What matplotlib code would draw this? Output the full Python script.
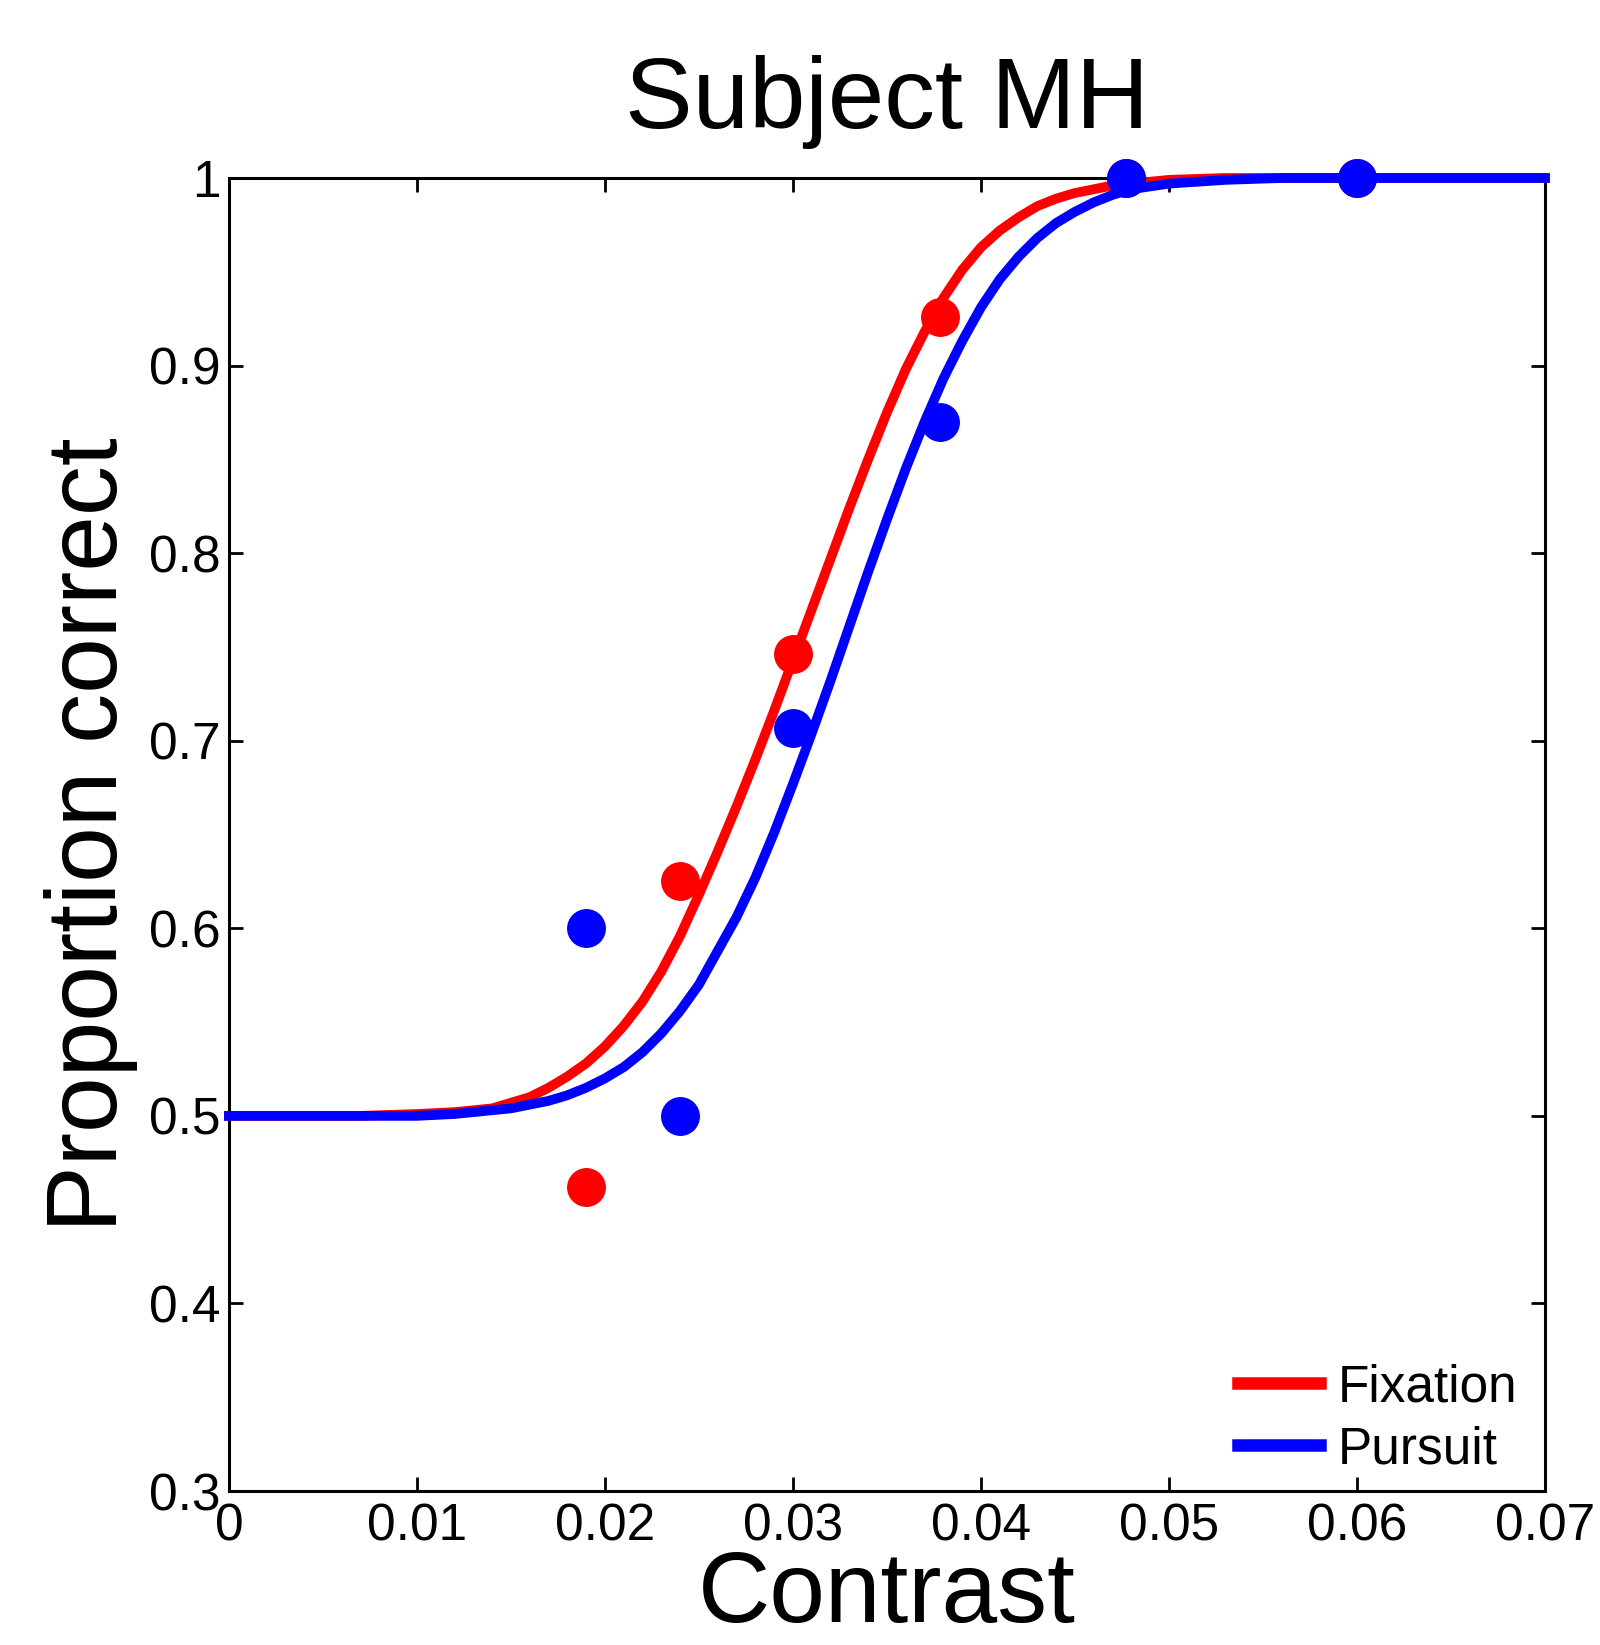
import numpy as np
import matplotlib
matplotlib.use("Agg")
import matplotlib.pyplot as plt

plt.rcParams['font.family'] = ['Liberation Sans', 'DejaVu Sans']

# measured proportion correct at each contrast
contrast = [0.019, 0.024, 0.030, 0.0378, 0.0477, 0.060]
fix_pc = [0.462, 0.625, 0.746, 0.926, 1.0, 1.0]
pur_pc = [0.600, 0.500, 0.707, 0.870, 1.0, 1.0]

# fitted curves
fix_fit_x = [0.0, 0.007, 0.010, 0.012, 0.014, 0.015, 0.016, 0.017, 0.018, 0.019,
             0.020, 0.021, 0.022, 0.023, 0.024, 0.025, 0.026, 0.027, 0.028,
             0.029, 0.030, 0.031, 0.032, 0.033, 0.034, 0.035, 0.036, 0.037,
             0.038, 0.039, 0.040, 0.041, 0.042, 0.043, 0.044, 0.045, 0.046,
             0.047, 0.048, 0.050, 0.053, 0.070]
fix_fit_y = [0.500, 0.500, 0.501, 0.502, 0.504, 0.507, 0.510, 0.515, 0.521, 0.528,
             0.537, 0.548, 0.561, 0.577, 0.596, 0.618, 0.641, 0.665, 0.690,
             0.716, 0.743, 0.770, 0.797, 0.824, 0.850, 0.875, 0.898, 0.918,
             0.936, 0.951, 0.963, 0.972, 0.979, 0.985, 0.989, 0.992, 0.994,
             0.996, 0.997, 0.999, 1.0, 1.0]

pur_fit_x = [0.0, 0.010, 0.012, 0.014, 0.015, 0.016, 0.017, 0.018, 0.019,
             0.020, 0.021, 0.022, 0.023, 0.024, 0.025, 0.026, 0.027, 0.028,
             0.029, 0.030, 0.031, 0.032, 0.033, 0.034, 0.035, 0.036, 0.037,
             0.038, 0.039, 0.040, 0.041, 0.042, 0.043, 0.044, 0.045, 0.046,
             0.047, 0.048, 0.050, 0.053, 0.056, 0.070]
pur_fit_y = [0.500, 0.500, 0.501, 0.503, 0.504, 0.506, 0.508, 0.511, 0.515,
             0.520, 0.526, 0.534, 0.544, 0.556, 0.570, 0.588, 0.606, 0.627,
             0.651, 0.677, 0.704, 0.732, 0.761, 0.790, 0.818, 0.845, 0.870,
             0.893, 0.913, 0.931, 0.946, 0.958, 0.968, 0.976, 0.982, 0.987,
             0.991, 0.994, 0.997, 0.999, 1.0, 1.0]

fig = plt.figure(figsize=(16, 16.45), dpi=100)
ax = fig.add_axes([0.1431, 0.0936, 0.8225, 0.7982])

lf, = ax.plot(fix_fit_x, fix_fit_y, color='red', lw=7, clip_on=False, zorder=3,
              solid_joinstyle='round')
ax.plot(contrast, fix_pc, 'o', color='red', ms=27, clip_on=False, zorder=4)
lp, = ax.plot(pur_fit_x, pur_fit_y, color='blue', lw=7, clip_on=False, zorder=5,
              solid_joinstyle='round')
ax.plot(contrast, pur_pc, 'o', color='blue', ms=27, clip_on=False, zorder=6)

ax.set_xlim(0, 0.07)
ax.set_ylim(0.3, 1.0)
ax.set_xticks(np.arange(0, 0.0701, 0.01))
ax.set_xticklabels(['0', '0.01', '0.02', '0.03', '0.04', '0.05', '0.06', '0.07'])
ax.set_yticks(np.arange(0.3, 1.001, 0.1))
ax.set_yticklabels(['0.3', '0.4', '0.5', '0.6', '0.7', '0.8', '0.9', '1'])

ax.tick_params(direction='in', length=10, width=2, labelsize=37,
               top=True, right=True)
ax.tick_params(axis='x', pad=8)
ax.tick_params(axis='y', pad=6)
for s in ax.spines.values():
    s.set_linewidth(2.2)

ax.set_title('Subject MH', fontsize=73, pad=36)
ax.set_xlabel('Contrast', fontsize=72, va='baseline')
ax.xaxis.set_label_coords(0.5, -0.1)
ax.set_ylabel('Proportion correct', fontsize=72, va='baseline')
ax.yaxis.set_label_coords(-0.085, 0.5)

leg = ax.legend([lf, lp], ['Fixation', 'Pursuit'], loc='lower right',
                bbox_to_anchor=(0.995, -0.003), frameon=False, fontsize=37,
                handlelength=1.6, handletextpad=0.35, labelspacing=0.26,
                borderaxespad=0.0)
for h in leg.get_lines():
    h.set_linewidth(9)

fig.savefig('out.png', dpi=100)
